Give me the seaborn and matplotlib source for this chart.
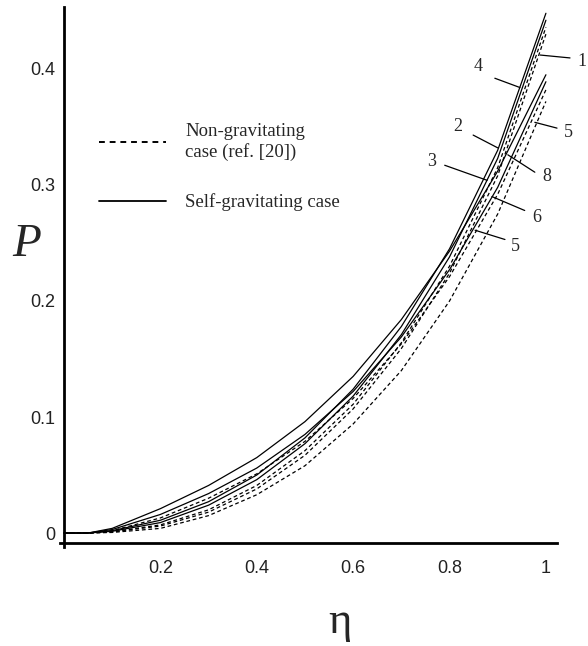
import numpy as np
import pandas as pd
import matplotlib
matplotlib.use("Agg")
import matplotlib.pyplot as plt
from matplotlib.lines import Line2D
from matplotlib import font_manager
import seaborn as sns

# ---------------- data ----------------
eta = [0.0, 0.05, 0.1, 0.2, 0.3, 0.4, 0.5, 0.6, 0.7, 0.8, 0.9, 1.0]

# self-gravitating (solid)
p_solid_a1 = [0, 0, 0.002, 0.011, 0.027, 0.050, 0.082, 0.124, 0.178, 0.245, 0.330, 0.448]
p_solid_a2 = [0, 0, 0.0015, 0.009, 0.024, 0.046, 0.077, 0.118, 0.171, 0.238, 0.323, 0.442]
p_solid_b1 = [0, 0, 0.004, 0.021, 0.041, 0.065, 0.096, 0.135, 0.184, 0.243, 0.312, 0.395]
p_solid_b2 = [0, 0, 0.003, 0.016, 0.034, 0.056, 0.085, 0.122, 0.169, 0.227, 0.298, 0.389]

# non-gravitating (dashed)
p_dash_a1 = [0, 0, 0.001, 0.007, 0.020, 0.041, 0.071, 0.111, 0.164, 0.230, 0.315, 0.436]
p_dash_a2 = [0, 0, 0.001, 0.006, 0.018, 0.038, 0.067, 0.107, 0.159, 0.224, 0.308, 0.430]
p_dash_b1 = [0, 0, 0.002, 0.013, 0.030, 0.051, 0.079, 0.116, 0.163, 0.221, 0.292, 0.382]
p_dash_b2 = [0, 0, 0.0005, 0.004, 0.015, 0.033, 0.058, 0.094, 0.140, 0.200, 0.275, 0.372]

curves = {
    "sa1": ("solid", p_solid_a1), "sa2": ("solid", p_solid_a2),
    "sb1": ("solid", p_solid_b1), "sb2": ("solid", p_solid_b2),
    "da1": ("dashed", p_dash_a1), "da2": ("dashed", p_dash_a2),
    "db1": ("dashed", p_dash_b1), "db2": ("dashed", p_dash_b2),
}

# curve labels: text, text position, leader start, leader end (data coords)
label_texts = ["1", "4", "5", "2", "8", "3", "6", "5"]
label_pos = [(1.075, 0.406), (0.859, 0.402), (1.046, 0.345), (0.817, 0.350),
             (1.002, 0.307), (0.763, 0.320), (0.981, 0.272), (0.936, 0.247)]
leader_start = [(1.050, 0.4095), (0.894, 0.392), (1.023, 0.349), (0.849, 0.343),
                (0.977, 0.311), (0.790, 0.317), (0.956, 0.278), (0.915, 0.253)]
leader_end = [(0.988, 0.412), (0.946, 0.384), (0.977, 0.354), (0.900, 0.332),
              (0.921, 0.326), (0.878, 0.304), (0.888, 0.290), (0.853, 0.261)]

xticks = [0.2, 0.4, 0.6, 0.8, 1.0]
xticklabels = ["0.2", "0.4", "0.6", "0.8", "1"]
yticks = [0, 0.1, 0.2, 0.3, 0.4]
yticklabels = ["0", "0.1", "0.2", "0.3", "0.4"]

rows = []
for name, (kind, vals) in curves.items():
    for e, p in zip(eta, vals):
        rows.append({"eta": e, "P": p, "curve": name, "kind": kind})
df = pd.DataFrame(rows)

# ---------------- style ----------------
sns.set_theme(style="white")
names = {f.name for f in font_manager.fontManager.ttflist}
tick_font = "Liberation Sans Narrow" if "Liberation Sans Narrow" in names else "Liberation Sans"
serif = ["Liberation Serif", "DejaVu Serif"]

fig = plt.figure(figsize=(5.88, 6.46), dpi=100)
ax = fig.add_axes([60 / 588, 1 - 543 / 646, (557 - 60) / 588, (543 - 7) / 646])

sns.lineplot(data=df, x="eta", y="P", units="curve", style="kind", estimator=None,
             color="black", linewidth=0.9, dashes={"solid": "", "dashed": (3, 2.2)},
             legend=False, ax=ax, sort=False)

ax.set_xlim(-0.0083, 1.023)
ax.set_ylim(-0.0086, 0.4534)

ax.spines["top"].set_visible(False)
ax.spines["right"].set_visible(False)
ax.spines["left"].set_position(("data", 0))
ax.spines["left"].set_bounds(-0.012, 0.4534)
for s in ("left", "bottom"):
    ax.spines[s].set_linewidth(2.0)
    ax.spines[s].set_color("black")

ax.set_xticks(xticks)
ax.set_xticklabels(xticklabels, fontfamily=tick_font, fontsize=13, color="#222222")
ax.set_yticks(yticks)
ax.set_yticklabels(yticklabels, fontfamily=tick_font, fontsize=13, color="#222222")
ax.tick_params(axis="both", direction="in", length=5, width=1.6, color="black")
ax.tick_params(axis="x", pad=12)
ax.tick_params(axis="y", pad=6)
ax.set_xlabel("")
ax.set_ylabel("")

# axis titles
fig.text(27 / 588, 1 - 245 / 646, "P", fontfamily=serif, fontstyle="italic",
         fontsize=34, ha="center", va="center")
fig.text(340 / 588, 1 - 622 / 646, "η", fontfamily=serif,
         fontsize=32, ha="center", va="center")

# curve labels with leader lines
for t, tp, ls, le in zip(label_texts, label_pos, leader_start, leader_end):
    ax.plot([ls[0], le[0]], [ls[1], le[1]], color="black", lw=0.9, clip_on=False)
    ax.text(tp[0], tp[1], t, fontfamily=serif, fontsize=13, ha="center", va="center",
            clip_on=False)

# legend
handles = [Line2D([], [], color="black", lw=1.4, dashes=(3, 2.5)),
           Line2D([], [], color="black", lw=1.3)]
leg = ax.legend(handles, ["Non-gravitating\ncase (ref. [20])", "Self-gravitating case"],
                loc="upper left", bbox_to_anchor=(22 / 497, 1 - 99 / 536),
                frameon=False, handlelength=3.6, handletextpad=1.0,
                labelspacing=1.75, prop={"family": serif, "size": 13.5})

fig.savefig("out.png", dpi=100)
